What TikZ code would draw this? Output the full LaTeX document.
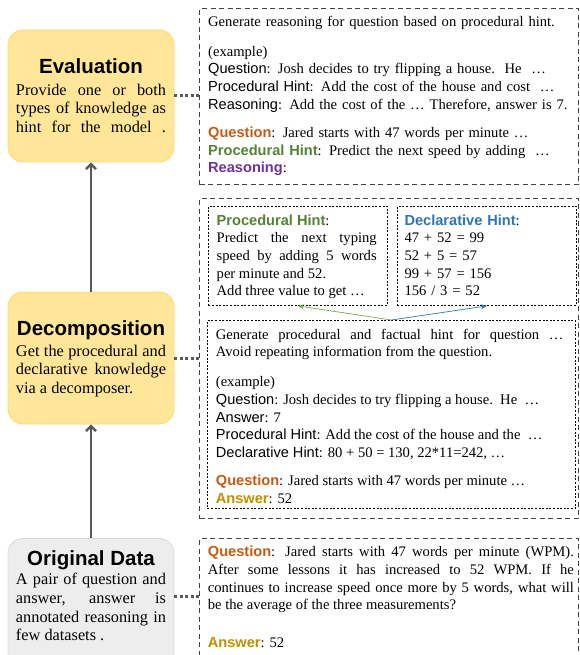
\documentclass[tikz,border=0pt]{standalone}
\usepackage{fontspec}
\setmainfont{Liberation Serif}
\setsansfont{Liberation Sans}
\usetikzlibrary{positioning,arrows.meta}

\definecolor{qorange}{HTML}{C55A11}
\definecolor{pgreen}{HTML}{548235}
\definecolor{rpurple}{HTML}{7030A0}
\definecolor{dblue}{HTML}{2E75B6}
\definecolor{agold}{HTML}{BF9000}
\definecolor{garrow}{HTML}{70AD47}
\definecolor{stagefill}{HTML}{FFE699}
\definecolor{stageline}{HTML}{FFD966}
\definecolor{datafill}{HTML}{EDEDED}
\definecolor{dataline}{HTML}{D9D9D9}
\definecolor{linkgray}{HTML}{595959}

\setlength{\parindent}{0pt}
\hyphenpenalty=10000
\exhyphenpenalty=10000
\tolerance=9999
\hbadness=10000

% labels in the prompts
\newcommand{\keyw}[1]{{\sffamily #1}}
\newcommand{\hkey}[2]{{\sffamily\bfseries\color{#1}#2}}

\begin{document}
\begin{tikzpicture}[x=1pt, y=-1pt,
  stagebox/.style={draw=stageline, fill=stagefill, line width=0.8pt, rounded corners=15pt, minimum width=166pt, minimum height=132pt, inner sep=0pt},
  databox/.style={stagebox, draw=dataline, fill=datafill, minimum height=150pt},
  stagetitle/.style={font=\sffamily\bfseries\fontsize{20.5}{22}\selectfont, inner sep=0pt, anchor=base},
  stagebody/.style={font=\fontsize{16.3}{18.8}\selectfont, text width=150pt, align=justify, inner sep=0pt, anchor=north},
  promptbox/.style={draw=black!75, line width=1.1pt, dash pattern=on 5pt off 3.5pt, inner sep=0pt, anchor=north west, minimum width=379pt},
  hintbox/.style={draw=black, line width=0.9pt, dash pattern=on 2pt off 1.6pt, inner sep=0pt, anchor=north west},
  txt/.style={font=\fontsize{14.6}{17.7}\selectfont, inner sep=0pt, anchor=north west, align=left, text width=368pt},
  flow/.style={draw=linkgray, line width=2.5pt, -{Straight Barb[length=5pt,width=10pt]}},
  dotlink/.style={draw=linkgray, line width=3pt, dash pattern=on 3pt off 2.5pt},
  hintarrow/.style={line width=0.7pt, -{Stealth[length=6pt,width=5pt]}}]
\clip (0,0) rectangle (579,655);

% stages
\node (eval) [stagebox] at (91,96) {};
\node (evaltitle) [stagetitle] at (91,73.5) {Evaluation};
\node (evalbody) [stagebody] at (91,81.8) {\strut\parfillskip=0pt Provide one or both\linebreak types of knowledge as\linebreak hint for the model~.\par};

\node (decomp) [stagebox] at (91,358) {};
\node (decomptitle) [stagetitle] at (91,335.6) {Decomposition};
\node (decompbody) [stagebody] at (91,342.8) {\strut Get the procedural and\linebreak declarative knowledge\linebreak via a decomposer.};

\node (orig) [databox, anchor=north] at (91,538) {};
\node (origtitle) [stagetitle] at (91,565.3) {Original Data};
\node (origbody) [stagebody] at (91,571.1) {\strut A pair of question and\linebreak answer, answer is\linebreak annotated reasoning in\linebreak few datasets~.};

\draw[flow] (orig) -- (decomp);
\draw[flow] (decomp) -- (eval);

% evaluation prompt
\node (evalprompt) [promptbox, minimum height=176pt] at (199,8) {};
\node (evaltext) [txt] at (208,13.6) {\strut Generate reasoning for question based on procedural hint.\par\vspace{12.3pt}
(example)\newline
\keyw{Question}: Josh decides to try flipping a house.\ \ He~ …\newline
\keyw{Procedural Hint}: Add the cost of the house and cost~ …\newline
\keyw{Reasoning}: Add the cost of the … Therefore, answer is 7.\par\vspace{10.6pt}
\hkey{qorange}{Question}: Jared starts with 47 words per minute …\newline
\hkey{pgreen}{Procedural Hint}: Predict the next speed by adding~ …\newline
\hkey{rpurple}{Reasoning}:};

% decomposition prompt
\node (decompprompt) [promptbox, minimum height=320pt] at (199,198) {};
\node (procbox) [hintbox, minimum width=179pt, minimum height=99pt] at (208,206) {};
\node (declbox) [hintbox, minimum width=179pt, minimum height=99pt, right=9pt of procbox] {};
\node (hintprompt) [hintbox, minimum width=368pt, minimum height=188pt] at (207,320) {};
\node (proctext) [txt, text width=160pt, align=justify] at (216.5,212.6) {\strut\hkey{pgreen}{Procedural Hint}:\newline
Predict the next typing\linebreak speed by adding 5 words\linebreak per minute and 52.\newline
Add three value to get …};
\node (decltext) [txt, text width=165pt] at (404.3,212.6) {\strut\hkey{dblue}{Declarative Hint}:\newline
47 + 52 = 99\newline
52 + 5 = 57\newline
99 + 57 = 156\newline
156 / 3 = 52};
\node (hinttext) [txt, text width=347.6pt, align=justify] at (215.7,326.6) {\strut Generate procedural and factual hint for question …\linebreak Avoid repeating information from the question.\par\vspace{12.3pt}
(example)\newline
\keyw{Question}: Josh decides to try flipping a house.\ \ He~ …\newline
\keyw{Answer}: 7\newline
\keyw{Procedural Hint}: Add the cost of the house and the~ …\newline
\keyw{Declarative Hint}: 80 + 50 = 130, 22*11=242, …\par\vspace{10.6pt}
\hkey{qorange}{Question}: Jared starts with 47 words per minute …\newline
\hkey{agold}{Answer}: 52};

% data prompt
\node (dataprompt) [promptbox, minimum height=150pt] at (199,538) {};
\node (datatext) [txt, text width=366pt, align=justify] at (207.7,544.3) {\strut\hkey{qorange}{Question}: Jared starts with 47 words per minute (WPM).\linebreak
After some lessons it has increased to 52 WPM. If he\linebreak
continues to increase speed once more by 5 words, what will\linebreak
be the average of the three measurements?\par\vspace{19.7pt}
\hkey{agold}{Answer}: 52};

% links
\draw[dotlink] (eval.east) -- (evalprompt.west |- eval.east);
\draw[dotlink] (decomp.east) -- (decompprompt.west |- decomp.east);
\coordinate (datalink) at (174,596);
\draw[dotlink] (datalink) -- (datalink -| dataprompt.west);
\draw[hintarrow, garrow] (hintprompt.north) -- (procbox.south);
\draw[hintarrow, dblue] (hintprompt.north) -- (declbox.south);
\end{tikzpicture}
\end{document}
